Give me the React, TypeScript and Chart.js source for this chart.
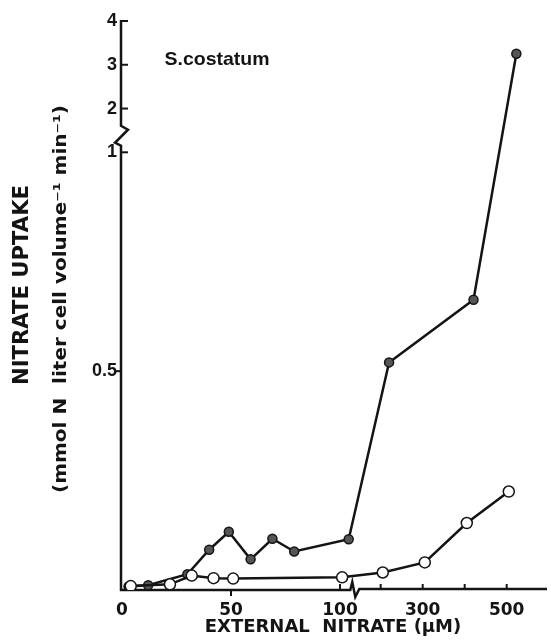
import { useEffect, useRef } from 'react';
import { Chart, registerables } from 'chart.js';

Chart.register(...registerables);

// ---- data ----
const filledNitrate = [3, 12, 30, 40, 49, 59, 69, 79, 104, 220, 421, 523];
const filledUptake = [0.008, 0.011, 0.036, 0.092, 0.133, 0.07, 0.117, 0.088, 0.116, 0.52, 0.663, 3.25];
const openNitrate = [4, 22, 32, 42, 51, 101, 205, 305, 405, 505];
const openUptake = [0.009, 0.013, 0.033, 0.027, 0.026, 0.029, 0.04, 0.063, 0.153, 0.225];

const xTickValues = [0, 50, 100, 200, 300, 400, 500];
const xTickLabels = ['0', '50', '100', '', '300', '', '500'];
const yTickValues = [0.5, 1, 2, 3, 4];
const yTickLabels = ['0.5', '1', '2', '3', '4'];

const speciesLabel = 'S.costatum';
const yTitle1 = 'NITRATE UPTAKE';
const yTitle2 = '(mmol N  liter cell volume\u207B\u00B9 min\u207B\u00B9)';
const xTitle = 'EXTERNAL  NITRATE (\u03BCM)';

// ---- broken-axis transforms ----
const X_SPLIT = 110;
const X_OFFSET = 99.4;
const X_COMPRESS = 0.1927;
const xu = (x: number) => (x <= X_SPLIT ? x : X_OFFSET + (x - 100) * X_COMPRESS);
const Y_COMPRESS = 0.1;
const yv = (y: number) => (y <= 1 ? y : 1 + (y - 1) * Y_COMPRESS);

const INK = '#141414';

function drawFitted(
  ctx: CanvasRenderingContext2D,
  text: string,
  x: number,
  y: number,
  font: string,
  target: number,
  rotate: boolean,
) {
  ctx.save();
  ctx.font = font;
  const w = ctx.measureText(text).width;
  ctx.translate(x, y);
  if (rotate) ctx.rotate(-Math.PI / 2);
  ctx.scale(target / w, 1);
  ctx.fillStyle = INK;
  ctx.textAlign = 'center';
  ctx.textBaseline = 'alphabetic';
  ctx.fillText(text, 0, 0);
  ctx.restore();
}

const axesPlugin = {
  id: 'brokenAxes',
  beforeDatasetsDraw(chart: any) {
    const { ctx } = chart;
    const xs = chart.scales.x;
    const ys = chart.scales.y;
    const X = (v: number) => xs.getPixelForValue(xu(v));
    const Y = (v: number) => ys.getPixelForValue(yv(v));
    const ax = X(0) - 1;
    const ay = Y(0);
    ctx.save();
    ctx.strokeStyle = INK;
    ctx.lineWidth = 2.5;
    ctx.lineCap = 'butt';
    ctx.lineJoin = 'miter';

    // y axis with break
    const yb = Y(1.15);
    ctx.beginPath();
    ctx.moveTo(ax, ay + 1);
    ctx.lineTo(ax, yb);
    ctx.lineTo(ax - 6, yb - 3);
    ctx.lineTo(ax + 7, yb - 16);
    ctx.lineTo(ax, yb - 20);
    ctx.lineTo(ax, Y(4) - 1);
    ctx.stroke();

    // y ticks
    ctx.lineWidth = 2;
    yTickValues.forEach((v) => {
      const py = Y(v);
      ctx.beginPath();
      if (v === 0.5) {
        ctx.moveTo(ax - 5, py);
        ctx.lineTo(ax, py);
      } else {
        ctx.moveTo(ax, py);
        ctx.lineTo(ax + 7, py);
      }
      ctx.stroke();
    });

    // x axis with break
    ctx.lineWidth = 2.5;
    const xb = X(104.5) + 0.5;
    ctx.beginPath();
    ctx.moveTo(ax - 1, ay);
    ctx.lineTo(xb, ay);
    ctx.lineTo(xb + 2, ay - 8);
    ctx.lineTo(xb + 5, ay + 7);
    ctx.lineTo(xb + 9, ay - 1);
    ctx.lineTo(chart.chartArea.right + 3, ay - 1);
    ctx.stroke();

    // x ticks
    ctx.lineWidth = 2;
    xTickValues.forEach((v) => {
      if (v === 0) return;
      const px = X(v);
      ctx.beginPath();
      if (v === 50) {
        ctx.moveTo(px, ay);
        ctx.lineTo(px, ay + 6);
      } else {
        ctx.moveTo(px, ay - 6);
        ctx.lineTo(px, ay);
      }
      ctx.stroke();
    });
    ctx.restore();

    // titles and species label
    drawFitted(ctx, yTitle1, 28, 285, 'bold 21px "DejaVu Sans"', 200, true);
    drawFitted(ctx, yTitle2, 66, 299, 'bold 17px "DejaVu Sans"', 388, true);
    drawFitted(ctx, speciesLabel, 217, 65, 'bold 19px "Liberation Sans"', 105, false);
  },
};

export default function App() {
  const ref = useRef<HTMLCanvasElement | null>(null);

  useEffect(() => {
    if (!ref.current) return;
    const chart = new Chart(ref.current, {
      type: 'line',
      data: {
        datasets: [
          {
            label: 'open',
            data: openNitrate.map((x, i) => ({ x: xu(x), y: yv(openUptake[i]) })),
            borderColor: INK,
            borderWidth: 2.5,
            backgroundColor: '#ffffff',
            pointBackgroundColor: '#ffffff',
            pointBorderColor: INK,
            pointBorderWidth: 1.5,
            pointRadius: 5.5,
            tension: 0,
          },
          {
            label: 'filled',
            data: filledNitrate.map((x, i) => ({ x: xu(x), y: yv(filledUptake[i]) })),
            borderColor: INK,
            borderWidth: 2.5,
            backgroundColor: '#4a4a4a',
            pointBackgroundColor: '#555555',
            pointBorderColor: INK,
            pointBorderWidth: 1.5,
            pointRadius: 4.5,
            tension: 0,
          },
        ],
      },
      options: {
        animation: false,
        responsive: false,
        maintainAspectRatio: false,
        layout: { padding: { top: 21, right: 3, left: 0, bottom: 0 } },
        plugins: {
          legend: { display: false },
          tooltip: { enabled: false },
          title: { display: false },
        },
        scales: {
          x: {
            type: 'linear',
            min: 0,
            max: 193.6,
            grid: { display: false, drawTicks: false },
            border: { display: false },
            afterBuildTicks: (scale: any) => {
              scale.ticks = xTickValues.map((v) => ({ value: xu(v) }));
            },
            afterFit: (scale: any) => {
              scale.height = 54;
            },
            ticks: {
              autoSkip: false,
              maxRotation: 0,
              padding: 10,
              color: INK,
              font: { family: '"DejaVu Sans"', weight: 'bold', size: 17 },
              callback: (_v: any, i: number) => xTickLabels[i],
            },
            title: {
              display: true,
              text: xTitle,
              color: INK,
              font: { family: '"DejaVu Sans"', weight: 'bold', size: 18 },
              padding: { top: 0, bottom: 6 },
            },
          },
          y: {
            type: 'linear',
            min: 0,
            max: 1.3,
            grid: { display: false, drawTicks: false },
            border: { display: false },
            afterBuildTicks: (scale: any) => {
              scale.ticks = yTickValues.map((v) => ({ value: yv(v) }));
            },
            afterFit: (scale: any) => {
              scale.width = 122;
            },
            ticks: {
              autoSkip: false,
              padding: 5,
              color: INK,
              font: { family: '"Liberation Sans"', weight: 'bold', size: 18 },
              callback: (_v: any, i: number) => yTickLabels[i],
            },
          },
        },
      },
      plugins: [axesPlugin],
    });
    return () => chart.destroy();
  }, []);

  return (
    <div style={{ position: 'fixed', left: 0, top: 0, width: 551, height: 644, background: '#fff' }}>
      <canvas ref={ref} width={551} height={644} style={{ display: 'block', width: 551, height: 644 }} />
    </div>
  );
}
